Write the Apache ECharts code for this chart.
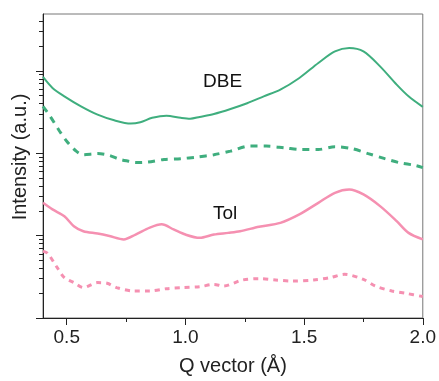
<!DOCTYPE html>
<html>
<head>
<meta charset="utf-8">
<script src="https://cdn.jsdelivr.net/npm/echarts@6/dist/echarts.min.js"></script>
<style>
  html, body { margin: 0; padding: 0; background: #fff; }
  #chart { width: 439px; height: 381px; }
</style>
</head>
<body>
<div id="chart"></div>
<script>
// Q values (Å) and intensities
const qDbeSolid = [0.40, 0.44, 0.49, 0.56, 0.63, 0.70, 0.77, 0.81, 0.86, 0.92, 0.98, 1.02, 1.06, 1.12, 1.19, 1.26, 1.33, 1.40, 1.48, 1.56, 1.63, 1.69, 1.75, 1.82, 1.89, 1.94, 2.00];
const iDbeSolid = [843, 621, 491, 371, 294, 251, 229, 238, 269, 286, 269, 262, 276, 300, 345, 405, 490, 592, 820, 1247, 1722, 1896, 1722, 1134, 680, 491, 365];

const qDbeDash = [0.40, 0.43, 0.47, 0.50, 0.54, 0.57, 0.63, 0.68, 0.72, 0.76, 0.79, 0.84, 0.91, 0.98, 1.05, 1.12, 1.19, 1.27, 1.34, 1.42, 1.49, 1.56, 1.63, 1.70, 1.77, 1.84, 1.90, 1.97, 2.00];
const iDbeDash = [371, 281, 185, 140, 106, 96, 99, 94, 85, 80, 77, 78, 84, 86, 90, 96, 106, 122, 122, 116, 111, 111, 120, 114, 99, 86, 77, 71, 67];

const qTolSolid = [0.40, 0.44, 0.49, 0.53, 0.57, 0.63, 0.68, 0.74, 0.79, 0.85, 0.90, 0.95, 1.00, 1.06, 1.12, 1.18, 1.23, 1.31, 1.40, 1.48, 1.56, 1.63, 1.69, 1.75, 1.82, 1.89, 1.94, 2.00];
const iTolSolid = [25.0, 20.8, 17.2, 13.0, 11.3, 10.6, 9.9, 9.0, 10.3, 12.5, 13.7, 11.9, 10.3, 9.4, 10.3, 10.8, 11.3, 12.8, 14.3, 18.1, 25.0, 33.1, 36.3, 31.6, 22.8, 15.0, 10.8, 9.0];

const qTolDash = [0.40, 0.42, 0.46, 0.49, 0.53, 0.57, 0.63, 0.67, 0.71, 0.78, 0.85, 0.92, 0.99, 1.06, 1.12, 1.16, 1.24, 1.31, 1.38, 1.45, 1.54, 1.61, 1.67, 1.75, 1.80, 1.87, 1.93, 2.00];
const iTolDash = [6.49, 6.08, 4.08, 3.09, 2.69, 2.34, 2.69, 2.64, 2.34, 2.13, 2.13, 2.27, 2.34, 2.40, 2.56, 2.44, 2.89, 3.00, 2.89, 2.81, 2.89, 3.09, 3.39, 2.94, 2.44, 2.13, 1.99, 1.82];

const xMajorTicks = [0.5, 1.0, 1.5, 2.0];
const xMinorTicks = [0.75, 1.25, 1.75];
const yMajorTicks = [1, 10, 100, 1000];
const yMinorTicks = [];
for (const d of [1, 10, 100, 1000]) {
  for (let k = 2; k <= 9; k++) {
    if (k * d < 4900) yMinorTicks.push(k * d);
  }
}

const GREEN = '#3fae7e';
const PINK = '#f590b1';
const FONT = 'Liberation Sans';

function pairs(qs, vs) {
  return qs.map((q, i) => [q, vs[i]]);
}

const chart = echarts.init(document.getElementById('chart'));

const option = {
  animation: false,
  grid: {
    left: 43, top: 14, right: 15, bottom: 62,
    show: true,
    borderColor: '#777',
    borderWidth: 1
  },
  xAxis: [
    {
      type: 'value',
      min: 0.4, max: 2.0,
      name: 'Q vector (Å)',
      nameLocation: 'middle',
      nameGap: 38,
      nameTextStyle: { fontFamily: FONT, fontSize: 20, color: '#222' },
      axisLine: { lineStyle: { color: '#222', width: 1 } },
      axisTick: { customValues: xMajorTicks, length: 7, lineStyle: { color: '#222' } },
      axisLabel: {
        customValues: xMajorTicks,
        formatter: v => v.toFixed(1),
        fontFamily: FONT, fontSize: 19, color: '#222', margin: 10
      },
      splitLine: { show: false }
    },
    {
      type: 'value',
      min: 0.4, max: 2.0,
      position: 'bottom',
      axisLine: { show: false },
      axisTick: { customValues: xMinorTicks, length: 4, lineStyle: { color: '#222' } },
      axisLabel: { show: false },
      splitLine: { show: false }
    }
  ],
  yAxis: [
    {
      type: 'log',
      logBase: 10,
      min: 1, max: 4900,
      name: 'Intensity (a.u.)',
      nameLocation: 'middle',
      nameGap: 13,
      nameTextStyle: { fontFamily: FONT, fontSize: 20, color: '#222', padding: [0, 0, 0, 18] },
      axisLine: { show: true, lineStyle: { color: '#222', width: 1 } },
      axisTick: { customValues: yMajorTicks, length: 7, lineStyle: { color: '#222' } },
      axisLabel: { show: false },
      splitLine: { show: false }
    },
    {
      type: 'log',
      logBase: 10,
      min: 1, max: 4900,
      position: 'left',
      axisLine: { show: false },
      axisTick: { customValues: yMinorTicks, length: 4, lineStyle: { color: '#222' } },
      axisLabel: { show: false },
      splitLine: { show: false }
    }
  ],
  graphic: [
    { type: 'text', left: 203, top: 72, style: { text: 'DBE', fontFamily: FONT, fontSize: 19, fill: '#111' } },
    { type: 'text', left: 213, top: 204, style: { text: 'Tol', fontFamily: FONT, fontSize: 19, fill: '#111' } }
  ],
  series: [
    {
      type: 'line', data: pairs(qDbeSolid, iDbeSolid), smooth: 0.3, showSymbol: false,
      lineStyle: { color: GREEN, width: 2 }
    },
    {
      type: 'line', data: pairs(qDbeDash, iDbeDash), smooth: 0.3, showSymbol: false,
      lineStyle: { color: GREEN, width: 3, type: [7, 6] }
    },
    {
      type: 'line', data: pairs(qTolSolid, iTolSolid), smooth: 0.3, showSymbol: false,
      lineStyle: { color: PINK, width: 2.5 }
    },
    {
      type: 'line', data: pairs(qTolDash, iTolDash), smooth: 0.3, showSymbol: false,
      lineStyle: { color: PINK, width: 3, type: [5, 5] }
    }
  ]
};

chart.setOption(option);
</script>
</body>
</html>
